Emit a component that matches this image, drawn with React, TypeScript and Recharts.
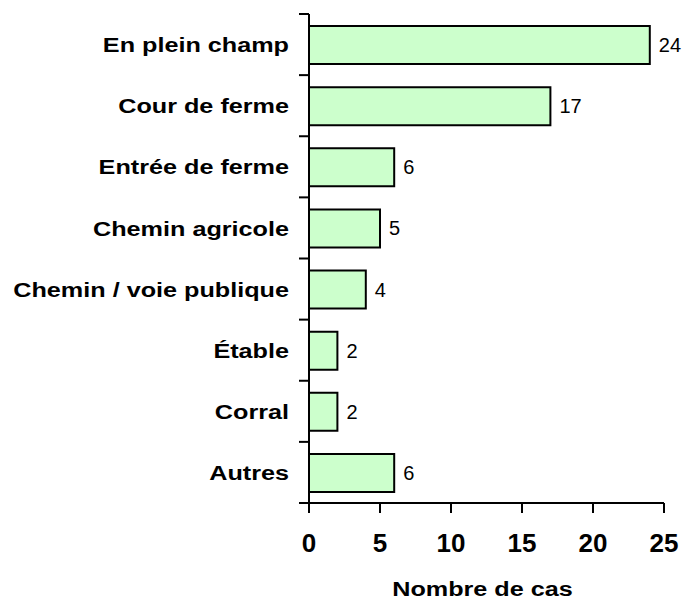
import React from "react";
import { BarChart, Bar, XAxis, YAxis, LabelList } from "recharts";

// Place of the incident -> number of cases
const categories = [
  "En plein champ",
  "Cour de ferme",
  "Entrée de ferme",
  "Chemin agricole",
  "Chemin / voie publique",
  "Étable",
  "Corral",
  "Autres",
];
const cases = [24, 17, 6, 5, 4, 2, 2, 6];
const xTicks = [0, 5, 10, 15, 20, 25];
const axisTitle = "Nombre de cas";

const data = categories.map((name, i) => ({ name, value: cases[i] }));

const FONT = '"Liberation Sans", Arial, Helvetica, sans-serif';
const TICK_SIZE = 10;
const TICK_MARGIN = 10;

// category label + tick marks on the band boundaries (not the band centres)
const CategoryTick = (props: any) => {
  const { x, y, payload, index, visibleTicksCount, height } = props;
  const half = payload.offset ?? height / visibleTicksCount / 2;
  const x1 = x + TICK_MARGIN;
  const x2 = x1 + TICK_SIZE;
  const isLast = index === visibleTicksCount - 1;
  return (
    <g>
      <line x1={x1} x2={x2} y1={y - half} y2={y - half} stroke="#000" strokeWidth={2} />
      {isLast && (
        <line x1={x1} x2={x2} y1={y + half} y2={y + half} stroke="#000" strokeWidth={2} />
      )}
      <text
        transform={`translate(${x},${y}) scale(1.2,1)`}
        textAnchor="end"
        dy="0.36em"
        fontFamily={FONT}
        fontSize={21}
        fontWeight="bold"
        fill="#000"
      >
        {payload.value}
      </text>
    </g>
  );
};

const AxisTitle = (props: any) => {
  const { viewBox } = props;
  const cx = viewBox.x + viewBox.width / 2 - 4;
  const by = viewBox.y + viewBox.height - 4.5;
  return (
    <text
      transform={`translate(${cx},${by}) scale(1.2,1)`}
      textAnchor="middle"
      fontFamily={FONT}
      fontSize={21}
      fontWeight="bold"
      fill="#000"
    >
      {axisTitle}
    </text>
  );
};

export default function App() {
  return (
    <div style={{ position: "absolute", top: 0, left: 0, background: "#fff" }}>
      <BarChart
        width={683}
        height={600}
        data={data}
        layout="vertical"
        margin={{ top: 14, right: 19, left: 0, bottom: 0 }}
      >
        <XAxis
          type="number"
          domain={[0, 25]}
          ticks={xTicks}
          interval={0}
          height={97}
          tickSize={10}
          tickMargin={21}
          axisLine={{ stroke: "#000", strokeWidth: 2 }}
          tickLine={{ stroke: "#000", strokeWidth: 2 }}
          tick={{ fontSize: 26, fontWeight: "bold", fill: "#000", fontFamily: FONT }}
          label={<AxisTitle />}
        />
        <YAxis
          type="category"
          dataKey="name"
          width={309}
          interval={0}
          tickSize={TICK_SIZE}
          tickMargin={TICK_MARGIN}
          axisLine={{ stroke: "#000", strokeWidth: 2 }}
          tickLine={{ stroke: "transparent" }}
          tick={<CategoryTick />}
        />
        <Bar
          dataKey="value"
          fill="#ccffcc"
          stroke="#000"
          strokeWidth={2}
          barSize={38}
          isAnimationActive={false}
        >
          <LabelList
            dataKey="value"
            position="right"
            offset={9}
            fill="#000"
            fontSize={20}
            fontFamily={FONT}
          />
        </Bar>
      </BarChart>
    </div>
  );
}
